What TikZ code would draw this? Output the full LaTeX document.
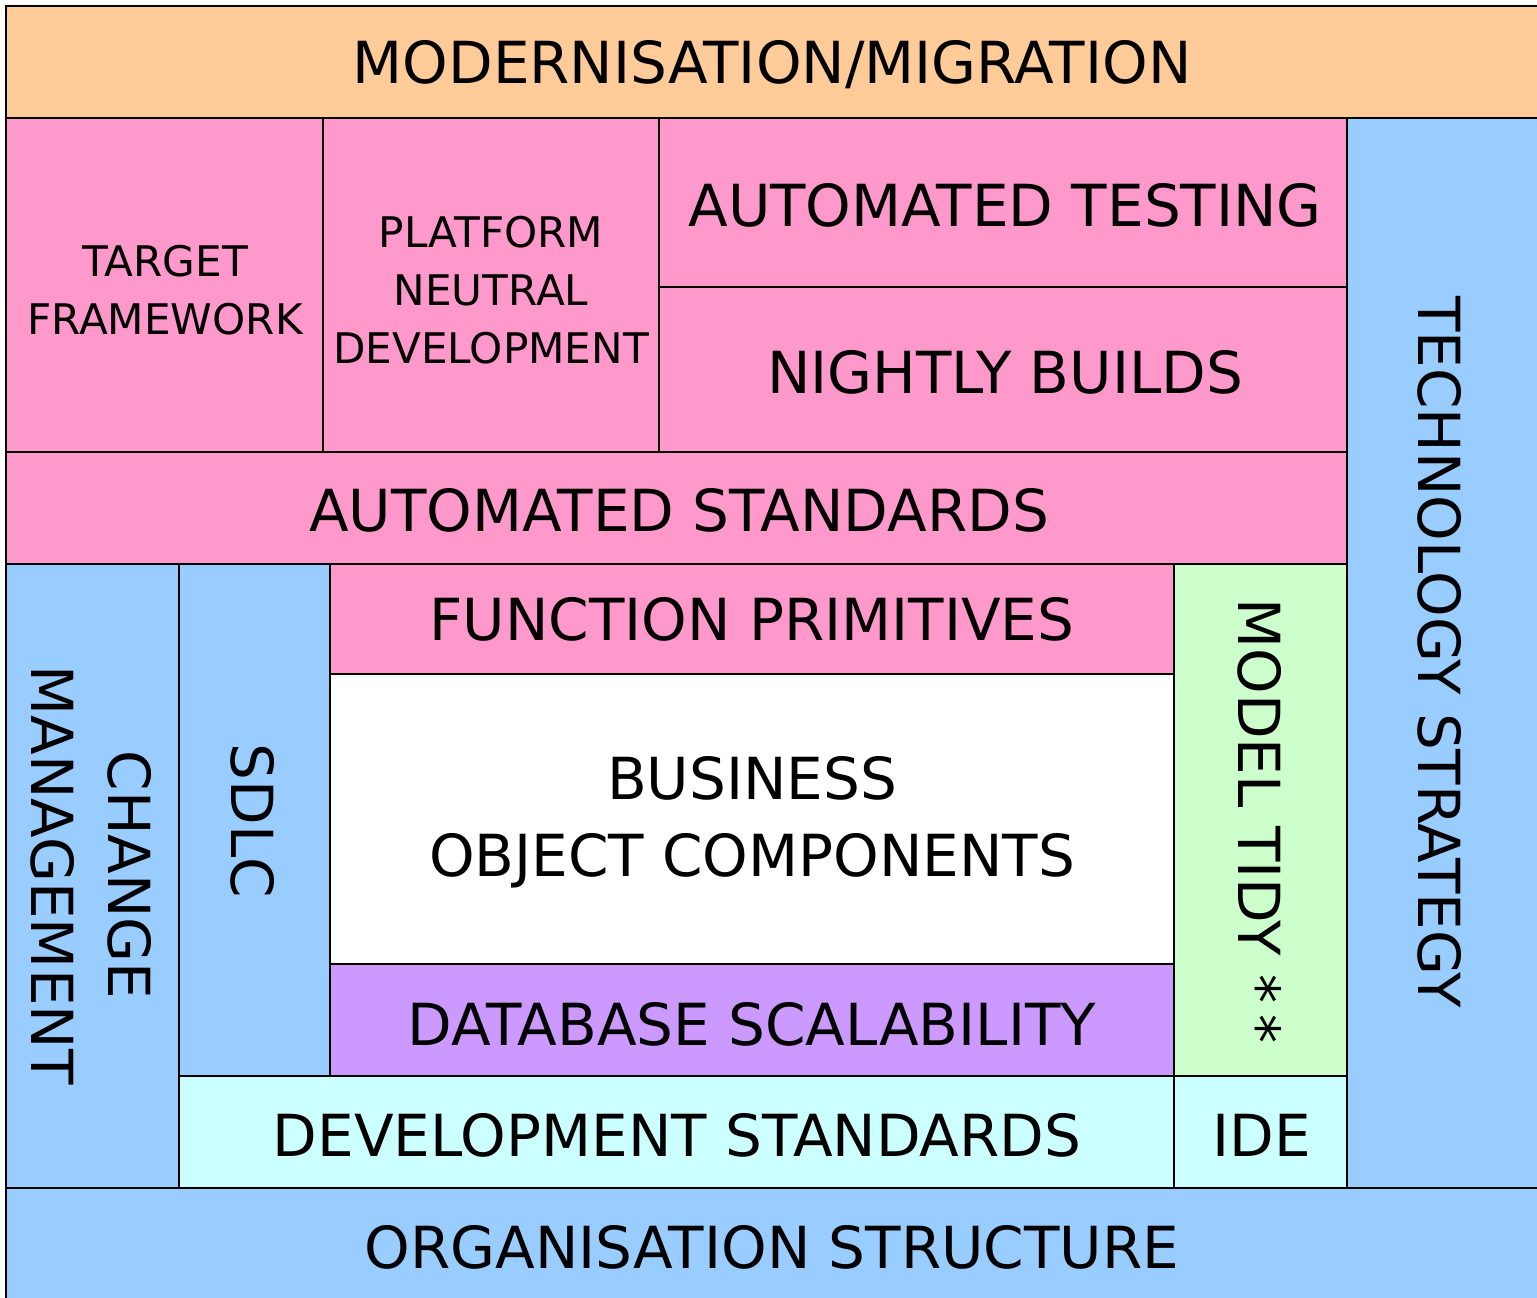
\documentclass[tikz,border=0pt]{standalone}
\usepackage{fontspec}
\setmainfont{DejaVu Sans}
\usepackage{tikz}

\definecolor{orangebox}{HTML}{FFCC99}
\definecolor{pinkbox}{HTML}{FF99CC}
\definecolor{bluebox}{HTML}{99CCFF}
\definecolor{greenbox}{HTML}{CCFFCC}
\definecolor{cyanbox}{HTML}{CCFFFF}
\definecolor{purplebox}{HTML}{CC99FF}

\begin{document}
\begin{tikzpicture}[x=1cm, y=-1cm, line width=0.8pt,
    big/.style={font=\fontsize{16.5}{22}\selectfont, align=center},
    small/.style={font=\fontsize{12}{16.5}\selectfont, align=center}]
    \useasboundingbox (0,0) rectangle (15.37,12.97);
    \clip (0,0) rectangle (15.37,12.97);

    % blocks
    \foreach \xa/\ya/\xb/\yb/\col in {
        0.06/0.06/15.45/1.18/orangebox,
        0.06/1.18/3.23/4.52/pinkbox,
        3.23/1.18/6.59/4.52/pinkbox,
        6.59/1.18/13.47/2.87/pinkbox,
        6.59/2.87/13.47/4.52/pinkbox,
        13.47/1.18/15.45/11.88/bluebox,
        0.06/4.52/13.47/5.64/pinkbox,
        0.06/5.64/1.79/11.88/bluebox,
        1.79/5.64/3.30/10.76/bluebox,
        3.30/5.64/11.74/6.74/pinkbox,
        3.30/6.74/11.74/9.64/white,
        3.30/9.64/11.74/10.76/purplebox,
        11.74/5.64/13.47/10.76/greenbox,
        1.79/10.76/11.74/11.88/cyanbox,
        11.74/10.76/13.47/11.88/cyanbox,
        0.06/11.88/15.45/13.05/bluebox}
      \draw [fill=\col] (\xa,\ya) rectangle (\xb,\yb);

    % labels
    \node (modern) [big] at (7.72,0.65) {MODERNISATION/MIGRATION};
    \node (target) [small] at (1.65,2.90) {TARGET\\FRAMEWORK};
    \node (platform) [small] at (4.91,2.90) {PLATFORM\\NEUTRAL\\DEVELOPMENT};
    \node (testing) [big] at (10.05,2.05) {AUTOMATED TESTING};
    \node (nightly) [big] at (10.05,3.72) {NIGHTLY BUILDS};
    \node (autostd) [big] at (6.79,5.10) {AUTOMATED STANDARDS};
    \node (techstrat) [big, rotate=-90] at (14.40,6.52) {TECHNOLOGY STRATEGY};
    \node (change) [big, rotate=-90] at (0.91,8.75) {CHANGE\\MANAGEMENT};
    \node (sdlc) [big, rotate=-90] at (2.53,8.21) {SDLC};
    \node (funcprim) [big] at (7.52,6.19) {FUNCTION PRIMITIVES};
    \node (business) [big] at (7.52,8.22) {BUSINESS\\OBJECT COMPONENTS};
    \node (database) [big] at (7.52,10.24) {DATABASE SCALABILITY};
    \node (tidy) [big, rotate=-90] at (12.60,8.21) {MODEL TIDY *\kern0.2em*};
    \node (devstd) [big] at (6.77,11.35) {DEVELOPMENT STANDARDS};
    \node (ide) [big] at (12.62,11.35) {IDE};
    \node (orgstruct) [big] at (7.72,12.47) {ORGANISATION STRUCTURE};
  \end{tikzpicture}
\end{document}
